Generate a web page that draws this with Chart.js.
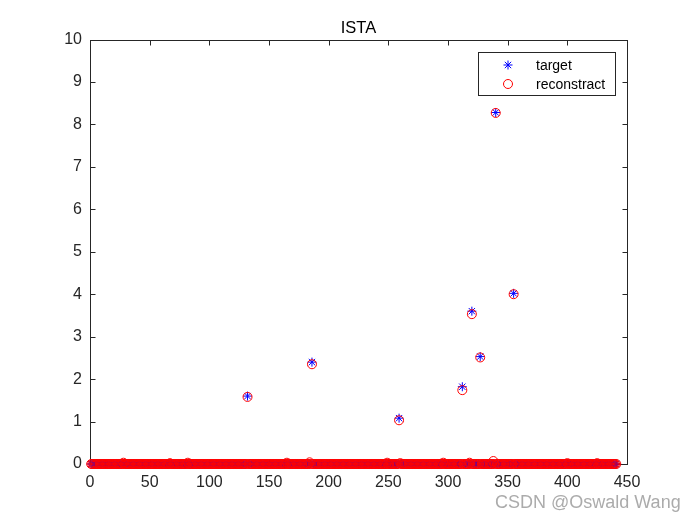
<!DOCTYPE html>
<html>
<head>
<meta charset="utf-8">
<script src="https://cdn.jsdelivr.net/npm/chart.js@4.4.1/dist/chart.umd.min.js"></script>
<style>
  html, body { margin: 0; padding: 0; background: #fff; }
  #wrap { width: 694px; height: 521px; }
</style>
</head>
<body>
<div id="wrap"><canvas id="c" width="694" height="521"></canvas></div>
<script>
// Sparse signal: every index 1..signalLength is zero except the listed spikes.
const signalLength = 441;
const spikeIdx     = [132, 186, 259, 312, 320, 327, 340, 355];
const targetSpikes = [1.60, 2.40, 1.08, 1.82, 3.60, 2.53, 8.28, 4.02];
const reconSpikes  = [1.58, 2.35, 1.03, 1.74, 3.53, 2.51, 8.27, 4.00];
// small leakage left in the reconstruction near zero
const reconLeakIdx = [28, 67, 82, 165, 184, 249, 260, 296, 318, 338, 400, 425];
const reconLeak    = [0.03, 0.02, 0.03, 0.03, 0.04, 0.03, 0.02, 0.03, 0.03, 0.07, 0.02, 0.02];

const xTicks = [0, 50, 100, 150, 200, 250, 300, 350, 400, 450];
const yTicks = [0, 1, 2, 3, 4, 5, 6, 7, 8, 9, 10];

const AXIS = "#262626";
const FONT = "'Liberation Sans', Arial, Helvetica, sans-serif";

function denseSeries(idx, vals, extraIdx, extraVals) {
  const pts = [];
  for (let i = 1; i <= signalLength; i++) {
    let y = 0;
    const k = idx.indexOf(i);
    if (k >= 0) y = vals[k];
    else if (extraIdx) {
      const j = extraIdx.indexOf(i);
      if (j >= 0) y = extraVals[j];
    }
    pts.push({ x: i, y });
  }
  return pts;
}

// box, inward ticks (drawn under the markers, like MATLAB's bottom layer)
const axesBox = {
  id: "axesBox",
  beforeDatasetsDraw(chart) {
    const { ctx, chartArea: a, scales } = chart;
    const L = Math.round(a.left) + 0.5, R = Math.round(a.right) + 0.5;
    const T = Math.round(a.top) + 0.5, B = Math.round(a.bottom) + 0.5;
    ctx.save();
    ctx.strokeStyle = AXIS;
    ctx.lineWidth = 1;
    ctx.strokeRect(L, T, R - L, B - T);
    ctx.beginPath();
    xTicks.forEach((v) => {
      const px = Math.round(scales.x.getPixelForValue(v)) + 0.5;
      ctx.moveTo(px, B); ctx.lineTo(px, B - 5);
      ctx.moveTo(px, T); ctx.lineTo(px, T + 5);
    });
    yTicks.forEach((v) => {
      const py = Math.round(scales.y.getPixelForValue(v)) + 0.5;
      ctx.moveTo(L, py); ctx.lineTo(L + 5, py);
      ctx.moveTo(R, py); ctx.lineTo(R - 5, py);
    });
    ctx.stroke();
    ctx.restore();
  },
  afterDraw(chart) {
    const { ctx, chartArea: a } = chart;
    ctx.save();
    // title
    ctx.fillStyle = "#000";
    ctx.font = "16.5px " + FONT;
    ctx.textAlign = "center";
    ctx.textBaseline = "alphabetic";
    ctx.fillText("ISTA", (a.left + a.right) / 2, 32.5);

    // legend
    const bx = 478.5, by = 52.5, bw = 137, bh = 43;
    ctx.fillStyle = "#fff";
    ctx.fillRect(bx, by, bw, bh);
    ctx.strokeStyle = AXIS;
    ctx.lineWidth = 1;
    ctx.strokeRect(bx, by, bw, bh);

    const mx = 508, y1 = 65, y2 = 84, r = 4.5;
    ctx.strokeStyle = "#0000ff";
    ctx.beginPath();
    for (let k = 0; k < 4; k++) {
      const ang = k * Math.PI / 4;
      ctx.moveTo(mx - Math.cos(ang) * r, y1 - Math.sin(ang) * r);
      ctx.lineTo(mx + Math.cos(ang) * r, y1 + Math.sin(ang) * r);
    }
    ctx.stroke();
    ctx.strokeStyle = "#ff0000";
    ctx.beginPath();
    ctx.arc(mx, y2, r, 0, Math.PI * 2);
    ctx.stroke();

    ctx.fillStyle = "#000";
    ctx.font = "14px " + FONT;
    ctx.textAlign = "left";
    ctx.fillText("target", 536, 69.5);
    ctx.fillText("reconstract", 536, 89);

    // watermark
    ctx.fillStyle = "rgba(150,150,150,0.8)";
    ctx.font = "18px " + FONT;
    ctx.fillText("CSDN @Oswald Wang", 495, 508);
    ctx.restore();
  },
};

new Chart(document.getElementById("c"), {
  type: "scatter",
  data: {
    datasets: [
      {
        label: "target",
        data: denseSeries(spikeIdx, targetSpikes),
        pointStyle: "star",
        pointRadius: 4.5,
        borderColor: "#0000ff",
        backgroundColor: "rgba(0,0,0,0)",
        borderWidth: 1,
        clip: false,
        order: 2,
      },
      {
        label: "reconstract",
        data: denseSeries(spikeIdx, reconSpikes, reconLeakIdx, reconLeak),
        pointStyle: "circle",
        pointRadius: 4.5,
        borderColor: "#ff0000",
        backgroundColor: "rgba(0,0,0,0)",
        borderWidth: 1,
        clip: false,
        order: 1,
      },
    ],
  },
  options: {
    responsive: false,
    animation: false,
    events: [],
    layout: { padding: { top: 39.5, right: 67, left: 0, bottom: 0 } },
    plugins: {
      legend: { display: false },
      tooltip: { enabled: false },
      title: { display: false },
    },
    scales: {
      x: {
        type: "linear",
        min: 0,
        max: 450,
        afterBuildTicks: (s) => { s.ticks = xTicks.map((v) => ({ value: v })); },
        afterFit: (s) => { s.height = 57; },
        grid: { display: false, drawTicks: false },
        border: { display: false },
        ticks: {
          color: AXIS,
          font: { family: FONT, size: 16 },
          padding: 9,
          maxRotation: 0,
          autoSkip: false,
        },
      },
      y: {
        type: "linear",
        min: 0,
        max: 10,
        afterBuildTicks: (s) => { s.ticks = yTicks.map((v) => ({ value: v })); },
        afterFit: (s) => { s.width = 90; },
        grid: { display: false, drawTicks: false },
        border: { display: false },
        ticks: {
          color: AXIS,
          font: { family: FONT, size: 16 },
          padding: 8,
          autoSkip: false,
        },
      },
    },
  },
  plugins: [axesBox],
});
</script>
</body>
</html>
